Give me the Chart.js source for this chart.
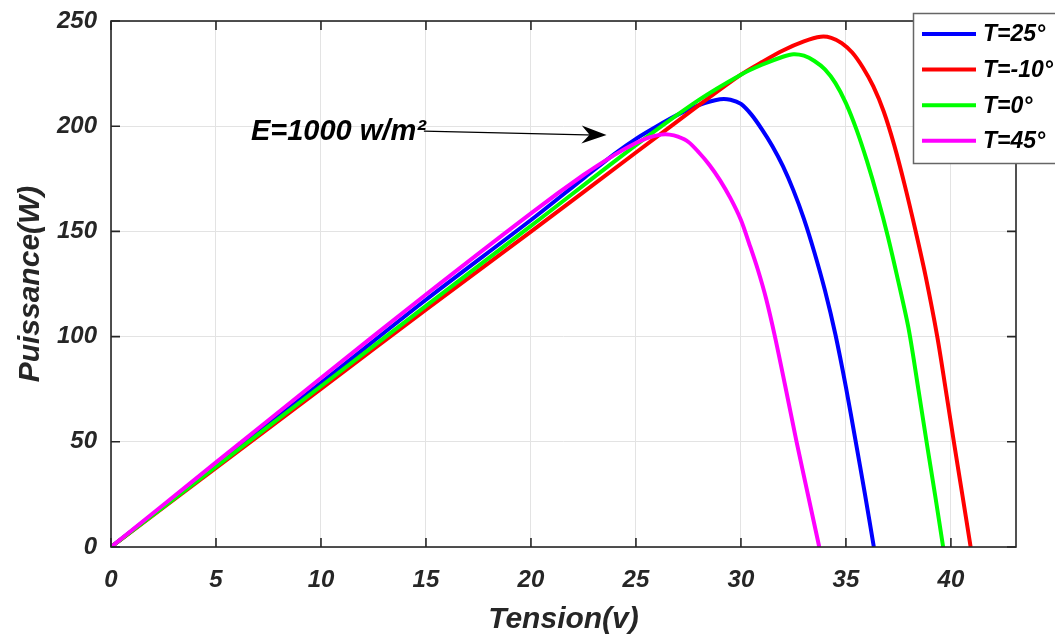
<!DOCTYPE html>
<html>
<head>
<meta charset="utf-8">
<script src="https://cdn.jsdelivr.net/npm/chart.js@4"></script>
<style>body{margin:0;background:#fff}</style>
</head>
<body>
<canvas id="myChart" width="1055" height="638"></canvas>
<script>
// series (Tension V -> Puissance W)
const labels = ['T=25°', 'T=-10°', 'T=0°', 'T=45°'];
const colors = ['#0000ff', '#ff0000', '#00ff00', '#ff00ff'];

const v25 = [0, 5, 10, 15, 20, 22.5, 24, 25, 26, 27, 28, 29, 29.5, 30, 30.5, 31, 31.5, 32, 32.5, 33, 33.5, 34, 34.5, 35, 35.45, 35.9, 36.33];
const p25 = [0, 39, 78, 117.5, 155.4, 175.2, 187, 194, 200, 205.5, 210, 212.8, 212.6, 210.6, 205.5, 198.5, 190.5, 181, 169.5, 156, 140, 122, 101, 76, 51, 25.5, 0];

const vm10 = [0, 5, 10, 15, 20, 25, 28, 30, 31, 32, 33, 33.8, 34.3, 34.8, 35.3, 35.8, 36.3, 36.8, 37.3, 37.8, 38.3, 38.8, 39.35, 39.75, 40.14, 40.55, 40.94];
const pm10 = [0, 37.6, 75.2, 112.8, 149.9, 187.5, 210, 224.5, 230.5, 236, 240.3, 242.5, 242, 239.5, 235, 228, 219, 207, 191, 172, 151, 128.5, 100, 75, 50, 24.5, 0];

const v0 = [0, 5, 10, 15, 20, 25, 28, 30, 31, 32, 32.5, 33, 33.5, 34, 34.5, 35, 35.5, 36, 36.5, 37, 37.5, 38, 38.45, 38.84, 39.25, 39.63];
const p0 = [0, 38.2, 76.4, 114.6, 152.6, 191, 212.5, 224.5, 229.2, 233, 234.2, 233.5, 231, 227, 220.5, 211, 198.5, 183.5, 166.5, 147.5, 126, 103, 75, 50, 24.5, 0];

const v45 = [0, 5, 10, 15, 20, 22.5, 24, 25, 25.6, 26.2, 26.6, 27, 27.5, 28, 28.5, 29, 29.5, 30, 30.4, 30.8, 31.2, 31.62, 32.1, 32.65, 33.2, 33.73];
const p45 = [0, 40.2, 80.3, 120, 158.6, 176.8, 186.5, 192, 194.6, 196, 196, 195, 192.5, 187.5, 181.6, 174.4, 165.8, 155.4, 144, 132, 118, 100, 77, 50, 24.5, 0];

const xTicks = [0, 5, 10, 15, 20, 25, 30, 35, 40];
const yTicks = [0, 50, 100, 150, 200, 250];

const noteText = 'E=1000 w/m²';
const arrowFrom = [14.9, 197.7];
const arrowTo = [23.6, 195.8];

const ink = '#262626';
const fam = '"Liberation Sans", Arial, sans-serif';

function pts(v, p) {
  return v.map((x, i) => ({x: x, y: p[i]}));
}

const series = [pts(v25, p25), pts(vm10, pm10), pts(v0, p0), pts(v45, p45)];

const boxPlugin = {
  id: 'box',
  afterDatasetsDraw(chart) {
    const c = chart.ctx;
    const a = chart.chartArea;
    const xs = chart.scales.x, ys = chart.scales.y;
    c.save();
    c.strokeStyle = ink;
    c.lineWidth = 1.6;
    c.strokeRect(a.left, a.top, a.right - a.left, a.bottom - a.top);
    c.beginPath();
    xTicks.forEach(t => {
      const px = xs.getPixelForValue(t);
      c.moveTo(px, a.bottom); c.lineTo(px, a.bottom - 9);
      c.moveTo(px, a.top); c.lineTo(px, a.top + 9);
    });
    yTicks.forEach(t => {
      const py = ys.getPixelForValue(t);
      c.moveTo(a.left, py); c.lineTo(a.left + 9, py);
      c.moveTo(a.right, py); c.lineTo(a.right - 9, py);
    });
    c.stroke();

    // annotation
    const x0 = xs.getPixelForValue(arrowFrom[0]), y0 = ys.getPixelForValue(arrowFrom[1]);
    const x1 = xs.getPixelForValue(arrowTo[0]), y1 = ys.getPixelForValue(arrowTo[1]);
    c.strokeStyle = '#000';
    c.fillStyle = '#000';
    c.lineWidth = 1.3;
    c.beginPath();
    c.moveTo(x0, y0); c.lineTo(x1 - 10, y1);
    c.stroke();
    const ang = Math.atan2(y1 - y0, x1 - x0);
    c.save();
    c.translate(x1, y1);
    c.rotate(ang);
    c.beginPath();
    c.moveTo(0, 0);
    c.lineTo(-25, -9);
    c.lineTo(-17, 0);
    c.lineTo(-25, 9);
    c.closePath();
    c.fill();
    c.restore();
    c.font = 'italic bold 29px ' + fam;
    c.fillStyle = '#000';
    c.textAlign = 'right';
    c.textBaseline = 'middle';
    c.fillText(noteText, x0 + 2, y0 + 1);

    // legend
    c.fillStyle = '#fff';
    c.fillRect(913, 13, 150, 150);
    c.strokeStyle = '#666';
    c.lineWidth = 1.5;
    c.strokeRect(913.5, 13.5, 150, 150);
    c.font = 'italic bold 23px ' + fam;
    c.textAlign = 'left';
    chart.data.datasets.forEach((ds, i) => {
      const ry = 34 + i * 35.6;
      c.strokeStyle = ds.borderColor;
      c.lineWidth = 4;
      c.beginPath();
      c.moveTo(922, ry); c.lineTo(976, ry);
      c.stroke();
      c.fillStyle = '#000';
      c.fillText(ds.label, 983, ry + 1);
    });
    c.restore();
  }
};

const ctx = document.getElementById('myChart');
new Chart(ctx, {
  type: 'line',
  data: {
    datasets: series.map((d, i) => ({
      label: labels[i],
      data: d,
      borderColor: colors[i],
      backgroundColor: colors[i],
      borderWidth: 4,
      pointRadius: 0,
      fill: false,
      tension: 0.3,
      order: 3 - i
    }))
  },
  options: {
    responsive: false,
    animation: false,
    devicePixelRatio: 1,
    layout: {padding: {top: 21, right: 39, left: 0, bottom: 0}},
    plugins: {legend: {display: false}, tooltip: {enabled: false}},
    scales: {
      x: {
        type: 'linear',
        min: 0,
        max: 43.1,
        afterBuildTicks: s => { s.ticks = xTicks.map(v => ({value: v})); },
        afterFit: s => { s.height = 91; s.paddingLeft = 0; s.paddingRight = 0; },
        grid: {color: '#e3e3e3', lineWidth: 1, drawTicks: false},
        border: {display: false},
        ticks: {color: ink, padding: 19, maxRotation: 0, font: {family: fam, size: 24, weight: 'bold', style: 'italic'}},
        title: {display: true, text: 'Tension(v)', color: ink, padding: {top: 0, bottom: 0},
          font: {family: fam, size: 30, weight: 'bold', style: 'italic', lineHeight: 1.2}}
      },
      y: {
        min: 0,
        max: 250,
        afterBuildTicks: s => { s.ticks = yTicks.map(v => ({value: v})); },
        afterFit: s => { s.width = 111; s.paddingTop = 0; s.paddingBottom = 0; },
        grid: {color: '#e3e3e3', lineWidth: 1, drawTicks: false},
        border: {display: false},
        ticks: {color: ink, padding: 14, font: {family: fam, size: 24, weight: 'bold', style: 'italic'}},
        title: {display: true, text: 'Puissance(W)', color: ink, padding: {top: 13, bottom: 0},
          font: {family: fam, size: 30, weight: 'bold', style: 'italic', lineHeight: 1.2}}
      }
    }
  },
  plugins: [boxPlugin]
});
</script>
</body>
</html>
